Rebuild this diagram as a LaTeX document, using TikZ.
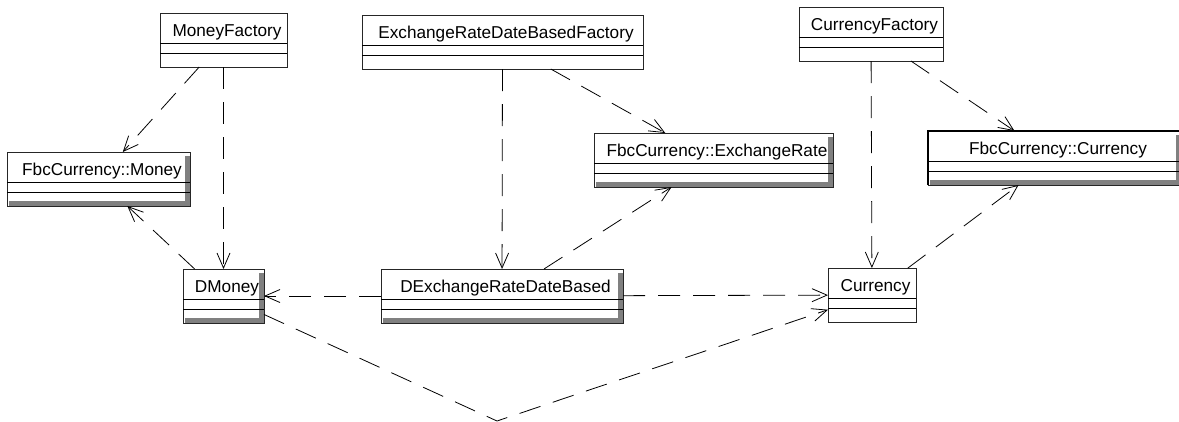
\documentclass[tikz,border=0pt]{standalone}
\usepackage{fontspec}
\setmainfont{Liberation Sans}
\usetikzlibrary{arrows.meta}

\tikzset{
  classbox/.style={draw=black!85, line width=0.8pt, minimum height=54, inner sep=0pt, outer sep=0pt, anchor=north west},
  classname/.style={anchor=base, inner sep=0pt, font=\fontsize{17.2}{20}\selectfont},
  depends/.style={black, line width=0.8pt, dash pattern=on 22pt off 13pt, -{Straight Barb[length=15pt,width=13pt]}},
}

% class box: name, left, top, right, title
\newcommand{\umlclass}[5]{%
  \node[classbox, minimum width=#4-#2] (#1) at (#2,#3) {};
  \draw[line width=0.8pt] ([yshift=-30pt]#1.north west) -- ([yshift=-30pt]#1.north east);
  \draw[line width=0.8pt] ([yshift=-40pt]#1.north west) -- ([yshift=-40pt]#1.north east);
  \node[classname] (#1-title) at ([xshift=3.5pt,yshift=-23pt]#1.north) {#5};
}
% gray shadow inside right and bottom edge: left, top, right
\newcommand{\classshadow}[3]{%
  \fill[black!50] (#3-5,#2+4) rectangle (#3,#2+54);
  \fill[black!50] (#1+2,#2+49) rectangle (#3,#2+54);
}

\begin{document}
\begin{tikzpicture}[x=1pt, y=-1pt]
  \useasboundingbox (0,0) rectangle (1179,421);

  % shadows first
  \classshadow{7}{152}{190}
  \classshadow{594}{133}{833}
  \classshadow{928}{131}{1181}
  \classshadow{183}{269}{264}
  \classshadow{381}{269}{623}

  % classes
  \umlclass{mf}{160}{13}{287}{MoneyFactory}
  \umlclass{money}{7}{152}{190}{FbcCurrency::Money}
  \umlclass{erf}{362}{15}{643}{ExchangeRateDateBasedFactory}
  \umlclass{rate}{594}{133}{833}{FbcCurrency::ExchangeRate}
  \umlclass{cf}{799}{7}{943}{CurrencyFactory}
  \umlclass{fcur}{928}{131}{1181}{FbcCurrency::Currency}
  \umlclass{dmoney}{183}{269}{264}{DMoney}
  \umlclass{drate}{381}{269}{623}{DExchangeRateDateBased}
  \umlclass{cur}{828}{268}{916}{Currency}
  \draw[line width=2.5pt] (fcur.south west) -- (fcur.north west) -- (fcur.north east);

  \coordinate (bend) at (497,421);

  % dependencies
  \draw[depends] (mf) -- (money);
  \draw[depends] (mf) -- (dmoney);
  \draw[depends] (dmoney) -- (money);
  \draw[depends] (erf) -- (drate);
  \draw[depends] (erf) -- (rate);
  \draw[depends] (drate) -- (rate);
  \draw[depends] (drate) -- (dmoney);
  \draw[depends] (drate) -- (cur);
  \draw[depends] (cf) -- (cur);
  \draw[depends] (cf) -- (fcur);
  \draw[depends] (cur) -- (fcur);
  \draw[depends] (dmoney) -- (bend) -- (cur);
\end{tikzpicture}
\end{document}
